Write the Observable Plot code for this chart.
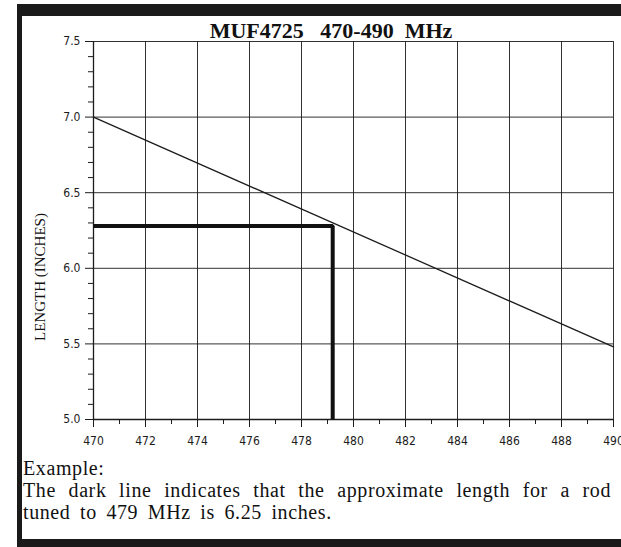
<!DOCTYPE html>
<html>
<head>
<meta charset="utf-8">
<script src="https://cdn.jsdelivr.net/npm/d3@7"></script>
<script src="https://cdn.jsdelivr.net/npm/@observablehq/plot@0.6"></script>
<style>
  html, body { margin: 0; padding: 0; background: #fff; }
  #page { position: relative; width: 621px; height: 547px; overflow: hidden; background: #fff; }
  .bar { position: absolute; background: #1a1a1a; }
  #title { position: absolute; left: 0; width: 662px; top: 18px; text-align: center; font: bold 22px "Liberation Serif", "Times New Roman", serif; white-space: pre; color: #111; }
  #ylabel { position: absolute; left: 40px; top: 277px; transform: translate(-50%, -50%) rotate(-90deg); font: 15px "Liberation Serif", serif; white-space: nowrap; color: #111; }
  #caption { position: absolute; left: 23px; top: 457px; width: 588px; font: 20px/22px "Liberation Serif", "Times New Roman", serif; color: #111; letter-spacing: 0.6px; word-spacing: 4px; }
  #caption .j { text-align: justify; text-align-last: justify; }
  #chart { position: absolute; left: 0; top: 20px; }
  #chart svg { font-family: "Liberation Sans Narrow", "DejaVu Sans Condensed", sans-serif; }
</style>
</head>
<body>
<div id="page">
  <div class="bar" style="left:17px; top:4px; width:604px; height:12px;"></div>
  <div class="bar" style="left:17px; top:4px; width:5px; height:543px;"></div>
  <div class="bar" style="left:17px; top:539px; width:604px; height:8px;"></div>
  <div id="title">MUF4725   470-490  MHz</div>
  <div id="ylabel">LENGTH (INCHES)</div>
  <div id="chart"></div>
  <div id="caption"><div>Example:</div><div class="j">The dark line indicates that the approximate length for a rod</div><div>tuned to 479 MHz is 6.25 inches.</div></div>
</div>
<script>
// Rod length chart data
const freqMHz = [470, 490];
const lengthIn = [7.0, 5.48];

// Example (dark line)
const exampleFreq = 479.2;
const exampleLength = 6.28;

// Axis ticks
const xMajorTicks = [470, 472, 474, 476, 478, 480, 482, 484, 486, 488, 490];
const xMinorTicks = [471, 473, 475, 477, 479, 481, 483, 485, 487, 489];
const yMajorTicks = [5.0, 5.5, 6.0, 6.5, 7.0, 7.5];
const yMinorTicks = [5.1, 5.2, 5.3, 5.4, 5.6, 5.7, 5.8, 5.9, 6.1, 6.2, 6.3, 6.4, 6.6, 6.7, 6.8, 6.9, 7.1, 7.2, 7.3, 7.4];

const xMin = 470, xMax = 490, yMin = 5.0, yMax = 7.5;

const lineData = freqMHz.map((f, i) => ({f, l: lengthIn[i]}));
const darkData = [
  {f: xMin, l: exampleLength},
  {f: exampleFreq, l: exampleLength},
  {f: exampleFreq, l: yMin}
];

const ink = "#1c1c1c";
const chart = Plot.plot({
  width: 621,
  height: 440,
  marginLeft: 93,
  marginRight: 8,
  marginTop: 21,
  marginBottom: 41,
  style: {fontSize: "12px", color: ink, background: "transparent"},
  x: {domain: [xMin, xMax]},
  y: {domain: [yMin, yMax]},
  marks: [
    Plot.gridX(xMajorTicks, {stroke: ink, strokeOpacity: 0.9, strokeWidth: 1}),
    Plot.gridY(yMajorTicks, {stroke: ink, strokeOpacity: 0.9, strokeWidth: 1}),
    Plot.ruleX([xMin], {stroke: ink, strokeWidth: 1.3}),
    Plot.ruleY([yMin], {stroke: ink, strokeWidth: 1.3}),
    Plot.axisX(xMajorTicks, {tickSize: 8, tickPadding: 9, tickFormat: d => String(d), label: null, stroke: ink, fill: ink}),
    Plot.axisX(xMinorTicks, {tickSize: 5, tickFormat: () => "", label: null, stroke: ink}),
    Plot.axisY(yMajorTicks, {tickSize: 8, tickPadding: 5, tickFormat: d3.format(".1f"), label: null, stroke: ink, fill: ink}),
    Plot.axisY(yMinorTicks, {tickSize: 5, tickFormat: () => "", label: null, stroke: ink}),
    Plot.line(lineData, {x: "f", y: "l", stroke: ink, strokeWidth: 1.3}),
    Plot.line(darkData, {x: "f", y: "l", stroke: "#111", strokeWidth: 4, strokeLinejoin: "miter", strokeLinecap: "butt"})
  ]
});
document.getElementById("chart").appendChild(chart);
</script>
</body>
</html>
